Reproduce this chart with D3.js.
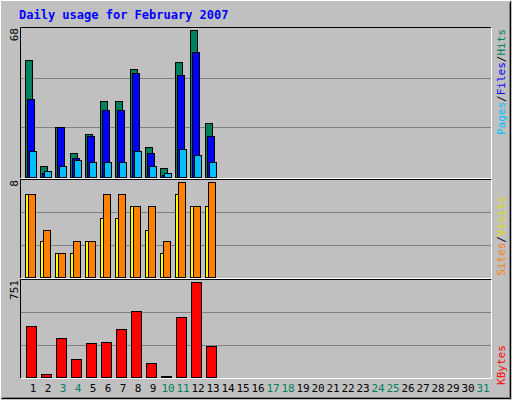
<!DOCTYPE html>
<html><head><meta charset="utf-8">
<script src="https://d3js.org/d3.v7.min.js"></script>
<style>body{margin:0;background:#fff}text{font-family:"DejaVu Sans Mono",monospace}</style>
</head><body>
<script>
const days = d3.range(1, 32);
const weekend = [3, 4, 10, 11, 17, 18, 24, 25, 31];
const hits = [54, 5, 23, 11, 20, 35, 35, 50, 14, 4, 53, 68, 25];
const files = [36, 2, 23, 9, 19, 31, 31, 48, 11, 1, 47, 58, 19];
const pages = [12, 3, 5, 8, 7, 7, 7, 12, 5, 2, 13, 10, 7];
const visits = [7, 3, 2, 2, 3, 5, 5, 6, 4, 2, 7, 6, 6];
const sites = [7, 4, 2, 3, 3, 7, 7, 6, 6, 3, 8, 6, 8];
const kbytes = [406, 27, 307, 143, 266, 274, 381, 521, 110, 11, 471, 751, 249];

const svg = d3.select("body").append("svg").attr("width", 512).attr("height", 400);
svg.append("rect").attr("width", 512).attr("height", 400).attr("fill", "#c0c0c0");
// bevel
svg.append("path").attr("d", "M0.5,399.5V0.5H511.5").attr("stroke", "#fff").attr("fill", "none");
svg.append("path").attr("d", "M1.5,398.5H510.5V1.5").attr("stroke", "#000").attr("fill", "none");
svg.append("path").attr("d", "M2.5,397.5H509.5V2.5").attr("stroke", "#808080").attr("fill", "none");

svg.append("text").attr("x", 19).attr("y", 19).attr("fill", "#0000ff")
	.style("font-size", "12px").style("font-weight", "bold").text("Daily usage for February 2007");

const x = d3.scaleLinear().domain([1, 31]).range([33, 483]);

const panels = [
	{top: 28, bottom: 177, max: 68, label: "68"},
	{top: 180, bottom: 277, max: 8, label: "8"},
	{top: 280, bottom: 377, max: 751, label: "751"}
];

panels.forEach(p => {
	p.y = d3.scaleLinear().domain([0, p.max]).range([p.bottom, p.top + 2]);
	const h = p.bottom - p.top;
	[1, 2].forEach(k => {
		const gy = Math.round(p.bottom - h * k / 3) + 0.5;
		svg.append("line").attr("x1", 21).attr("x2", 491).attr("y1", gy).attr("y2", gy)
			.attr("stroke", "#808080");
	});
	svg.append("path").attr("d", `M20.5,${p.bottom + 1.5}V${p.top - 0.5}H491.5`).attr("stroke", "#000").attr("fill", "none");
	svg.append("path").attr("d", `M20.5,${p.bottom + 1.5}H491.5V${p.top - 0.5}`).attr("stroke", "#fff").attr("fill", "none");
	svg.append("text").attr("transform", `translate(18,${p.top}) rotate(-90)`)
		.attr("text-anchor", "end").style("font-size", "11px").attr("fill", "#000").text(p.label);
});

function bars(data, p, dx, w, color) {
	svg.append("g").selectAll("rect").data(data).enter().append("rect")
		.attr("x", (d, i) => x(i + 1) + dx + 0.5)
		.attr("y", d => Math.round(p.y(d)) + 0.5)
		.attr("width", w)
		.attr("height", d => Math.max(0, p.bottom - Math.round(p.y(d))))
		.attr("fill", color).attr("stroke", "#000");
}
bars(hits, panels[0], -8, 7, "#00805c");
bars(files, panels[0], -6, 7, "#0000ff");
bars(pages, panels[0], -4, 7, "#00c0ff");
bars(visits, panels[1], -8, 6, "#ffff00");
bars(sites, panels[1], -5, 7, "#ff8000");
bars(kbytes, panels[2], -7, 10, "#ff0000");

svg.append("g").selectAll("text").data(days).enter().append("text")
	.attr("x", d => x(d)).attr("y", 392).attr("text-anchor", "middle")
	.style("font-size", "11px")
	.attr("fill", d => weekend.includes(d) ? "#00805c" : "#000").text(d => d);

function sideLabel(parts, cy) {
	const t = svg.append("text").attr("transform", `translate(505,${cy}) rotate(-90)`)
		.attr("text-anchor", "middle").style("font-size", "11px");
	parts.forEach(([s, c]) => t.append("tspan").attr("fill", c).text(s));
}
sideLabel([["Pages", "#00c0ff"], ["/", "#000"], ["Files", "#0000ff"], ["/", "#000"], ["Hits", "#00805c"]], 82);
sideLabel([["Sites", "#ff8000"], ["/", "#000"], ["Visits", "#e0e000"]], 236);
sideLabel([["KBytes", "#ff0000"]], 365);
</script>
</body></html>
